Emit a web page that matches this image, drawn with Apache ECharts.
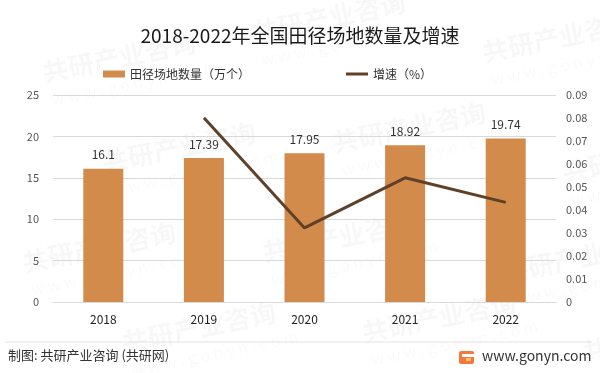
<!DOCTYPE html>
<html><head><meta charset="utf-8">
<script src="https://cdn.jsdelivr.net/npm/echarts@6/dist/echarts.min.js"></script>
<style>html,body{margin:0;padding:0;background:#fff}#c{width:600px;height:373px}</style>
</head><body><div id="c"></div>
<script>
const categories = ['2018','2019','2020','2021','2022'];
const fieldCount = [16.1, 17.39, 17.95, 18.92, 19.74];
const growthRate = [null, 0.0801, 0.0322, 0.054, 0.0433];
const leftTicks = {min:0, max:25, interval:5};
const rightTicks = {min:0, max:0.09, interval:0.01};

const chart = echarts.init(document.getElementById('c'), null, {renderer:'canvas'});
const font = '"Noto Sans CJK SC","Noto Sans",sans-serif';
const wm = [];
const wmPos = [[40,60],[250,20],[480,40],[100,150],[330,130],[560,160],[20,250],[260,240],[500,260],[120,330],[360,320],[580,340]];
wmPos.forEach(p => {
  wm.push({type:'text', x:p[0], y:p[1], rotation:0.2, silent:true, z:-10,
    style:{text:'共研产业咨询', font:'bold 26px '+font, fill:'rgba(0,0,0,0.03)'}});
  wm.push({type:'text', x:p[0]+10, y:p[1]+32, rotation:0.2, silent:true, z:-10,
    style:{text:'w w w . g o n y n . c o m', font:'16px '+font, fill:'rgba(0,0,0,0.025)'}});
});
chart.setOption({
  animation:false,
  textStyle:{fontFamily:font},
  title:{text:'2018-2022年全国田径场地数量及增速', left:'center', top:21,
    textStyle:{fontSize:19, fontWeight:'normal', color:'#1a1a1a', fontFamily:font}},
  legend:{top:63, left:98, itemGap:96, itemWidth:22, itemHeight:7,
    textStyle:{fontSize:12, color:'#333', fontFamily:font},
    data:[{name:'田径场地数量（万个）', icon:'rect'},{name:'增速（%）', icon:'path://M0,0H22V3H0Z'}]},
  grid:{left:53, right:44, top:95, bottom:71},
  xAxis:{type:'category', data:categories,
    axisLine:{lineStyle:{color:'#d9d9d9'}}, axisTick:{show:false},
    axisLabel:{color:'#222', fontSize:12, margin:11}},
  yAxis:[
    {type:'value', min:leftTicks.min, max:leftTicks.max, interval:leftTicks.interval,
      axisLine:{show:false}, axisTick:{show:false},
      axisLabel:{color:'#555', fontSize:11, margin:14},
      splitLine:{lineStyle:{color:'#d9d9d9'}}},
    {type:'value', min:rightTicks.min, max:rightTicks.max, interval:rightTicks.interval,
      axisLine:{show:false}, axisTick:{show:false},
      axisLabel:{color:'#555', fontSize:11, margin:10, formatter:v=>v===0?'0':v.toFixed(2)},
      splitLine:{show:false}}
  ],
  series:[
    {name:'田径场地数量（万个）', type:'bar', data:fieldCount, barWidth:40,
      itemStyle:{color:'#D38B4C'},
      label:{show:true, position:'top', distance:8, color:'#333', fontSize:12}},
    {name:'增速（%）', type:'line', yAxisIndex:1, data:growthRate, symbol:'none',
      lineStyle:{color:'#5E4128', width:3}, itemStyle:{color:'#5E4128'}}
  ],
  graphic:wm.concat([
    {type:'line', shape:{x1:5,y1:342,x2:592,y2:342}, style:{stroke:'#e3e3e3', lineWidth:1}},
    {type:'text', left:8, top:349, style:{text:'制图: 共研产业咨询 (共研网)', font:'13px '+font, fill:'#333'}},
    {type:'group', left:459, top:351, children:[
      {type:'rect', shape:{x:0,y:0,width:15,height:13,r:2}, style:{fill:'#F2793A'}},
      {type:'rect', shape:{x:3,y:3,width:12,height:3}, style:{fill:'#fff'}},
      {type:'rect', shape:{x:7,y:7,width:5,height:3}, style:{fill:'#FBC06A'}}
    ]},
    {type:'text', left:482, top:349, style:{text:'www.gonyn.com', font:'14px '+font, fill:'#333'}}
  ])
});
</script></body></html>
